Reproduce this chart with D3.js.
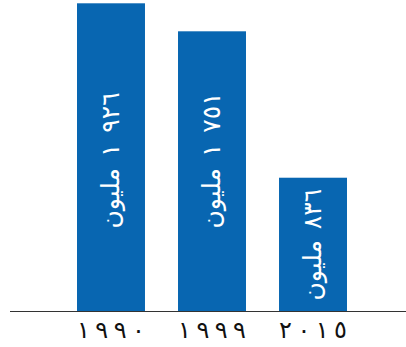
<!DOCTYPE html>
<html><head><meta charset="utf-8">
<script src="https://cdn.jsdelivr.net/npm/d3@7"></script>
<style>html,body{margin:0;padding:0;background:#fff;}svg{display:block;}</style>
</head><body>
<svg id="c" width="406" height="347"></svg>
<script>
const categories = ["١٩٩٠", "١٩٩٩", "٢٠١٥"];
const values = [1926, 1751, 836];
const barNumbers = ["١\u00A0٩٢٦", "١\u00A0٧٥١", "٨٣٦"];
const unitLabel = "مليون";

const svg = d3.select("#c");
const baseY = 311.5;
const x = d3.scaleBand().domain(categories).range([77, 347]).paddingInner(0.327).paddingOuter(0);
const y = d3.scaleLinear().domain([0, 1926]).range([baseY, 3.3]);
const color = "#0866b1";

svg.selectAll("rect.bar").data(values).join("rect")
  .attr("class","bar")
  .attr("x",(d,i)=>x(categories[i]))
  .attr("width",x.bandwidth())
  .attr("y",d=>y(d))
  .attr("height",d=>baseY-y(d))
  .attr("fill",color);

svg.append("line").attr("x1",10).attr("x2",406).attr("y1",baseY).attr("y2",baseY)
  .attr("stroke","#333").attr("stroke-width",1.2);

// rotated labels inside bars
svg.selectAll("text.lab").data(values).join("text")
  .attr("class","lab")
  .attr("transform",(d,i)=>{
    const cx = x(categories[i]) + x.bandwidth()/2;
    const h = baseY - y(d);
    const cy = h > 200 ? baseY - 83 : (y(d)+baseY)/2 + 56;
    return `translate(${cx + 8},${cy}) rotate(-90)`;
  })
  .attr("direction","rtl")
  .attr("text-anchor","end")
  .attr("fill","#fff")
  .attr("font-family","DejaVu Sans, sans-serif")
  .attr("font-size",25)
  .attr("word-spacing",3)
  .text((d,i)=>barNumbers[i] + " " + unitLabel);

// x axis labels
const ax = d3.axisBottom(x).tickSize(0).tickPadding(0);
const g = svg.append("g").attr("transform",`translate(0,${baseY})`).call(ax);
g.select(".domain").remove();
g.selectAll("text")
  .attr("y", 26)
  .attr("dy", 0)
  .attr("font-family","DejaVu Sans, sans-serif")
  .attr("font-size",24)
  .attr("fill","#111")
  .attr("textLength", x.bandwidth())
  .attr("lengthAdjust","spacing");
</script>
</body></html>
